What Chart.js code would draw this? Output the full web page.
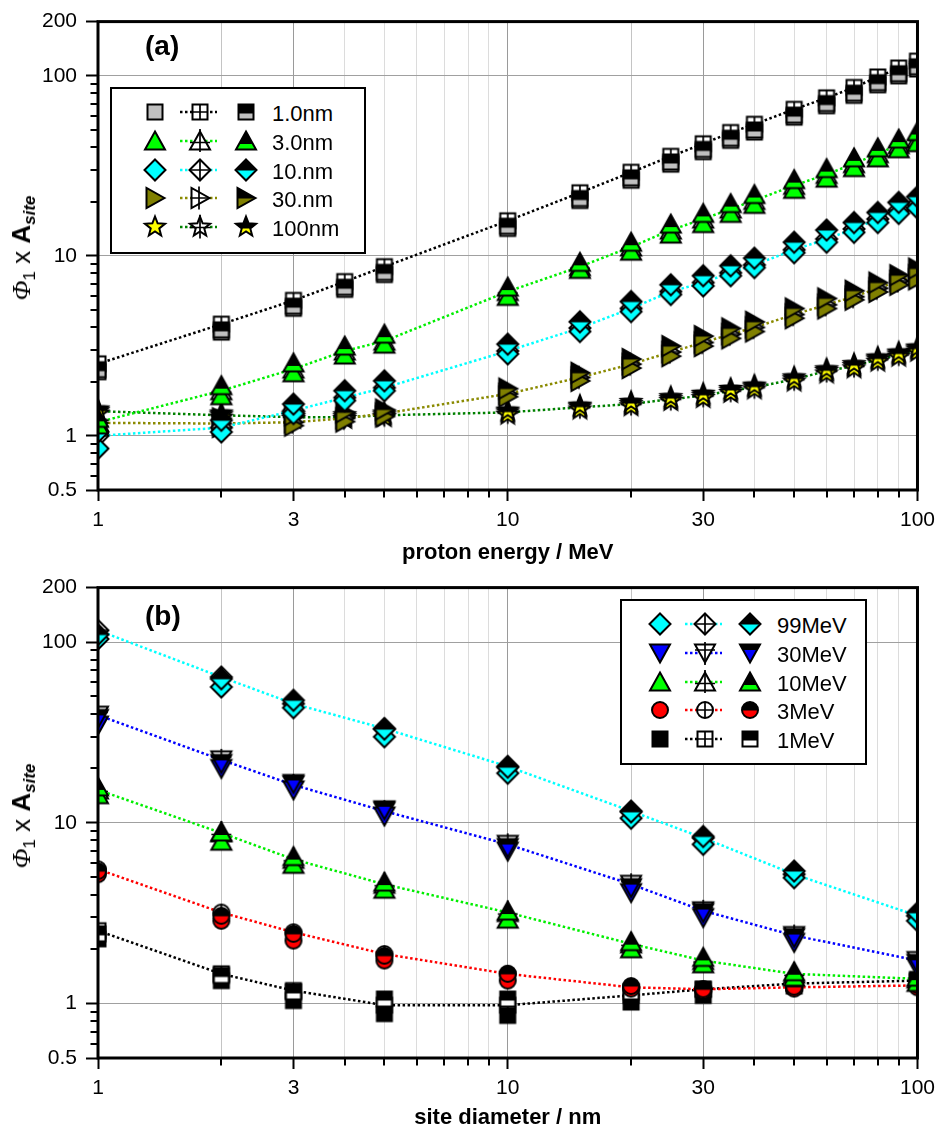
<!DOCTYPE html>
<html>
<head>
<meta charset="utf-8">
<title>Φ1 x Asite</title>
<script src="https://cdn.jsdelivr.net/npm/chart.js@4.4.1/dist/chart.umd.min.js"></script>
<style>
html,body{margin:0;padding:0;background:#fff;}
#page{position:relative;width:942px;height:1133px;overflow:hidden;font-family:"Liberation Sans",Arial,sans-serif;color:#000;}
#page canvas.chart{position:absolute;left:0;}
.plabel{position:absolute;font-weight:bold;font-size:28px;line-height:1;}
.ytitle{position:absolute;white-space:nowrap;font-size:26px;line-height:1;transform:translate(-50%,-50%) rotate(-90deg);}
.ytitle .phi{font-family:"Liberation Serif","DejaVu Serif",serif;font-style:italic;}
.ytitle sub{font-size:17px;vertical-align:-5px;line-height:1;}
.lbox{position:absolute;box-sizing:border-box;border:2.5px solid #000;background:#fff;}
.litem{position:absolute;}
.ltext{position:absolute;font-size:22px;line-height:22px;white-space:nowrap;}
</style>
</head>
<body>
<div id="page">
  <canvas class="chart" id="chartA" width="942" height="566" style="top:0"></canvas>
  <canvas class="chart" id="chartB" width="942" height="567" style="top:566px"></canvas>
  <div class="plabel" style="left:145px;top:32px;">(a)</div>
  <div class="plabel" style="left:145px;top:602px;">(b)</div>
  <div class="ytitle" style="left:23px;top:248px;"><span class="phi">Φ</span><sub>1</sub> x <b>A</b><sub><b><i>site</i></b></sub></div>
  <div class="ytitle" style="left:23px;top:816px;"><span class="phi">Φ</span><sub>1</sub> x <b>A</b><sub><b><i>site</i></b></sub></div>
</div>
<script>
// ---------------- DATA ----------------
// panel (a): x = proton energy / MeV
const energyMeV = [1,2,3,4,5,10,15,20,25,30,35,40,50,60,70,80,90,100];
const nm1Filled = [2.27,3.77,5.11,6.51,7.87,14.2,20.3,26.3,32.3,37.9,43.8,48.7,58.9,68.2,77.9,89.1,99.9,109.1];
const nm1Open   = [2.51,4.17,5.65,7.19,8.70,15.65,22.4,29.1,35.7,41.9,48.4,53.8,65.1,75.4,86.1,98.5,110.4,120.6];
const nm1Half   = [2.33,3.88,5.25,6.69,8.09,14.6,20.8,27.1,33.2,39.0,45.0,50.0,60.5,70.1,80.1,91.6,102.7,112.2];
const nm3Filled = [1.15,1.67,2.24,2.81,3.23,5.95,8.4,10.6,13.2,15.1,17.2,19.3,23.4,27.0,30.9,35.0,39.3,42.5];
const nm3Open   = [1.19,1.78,2.35,2.96,3.36,6.33,8.7,11.2,13.9,16.0,18.2,20.3,24.6,28.3,32.5,36.9,41.4,44.7];
const nm3Half   = [1.25,1.90,2.54,3.15,3.67,6.70,9.2,11.9,15.0,17.2,19.5,21.9,26.5,30.5,35.0,39.8,44.5,49.0];
const nm10Filled = [0.85,1.05,1.33,1.57,1.78,2.85,3.80,4.90,6.10,6.80,7.75,8.60,10.4,11.9,13.5,15.3,17.2,18.4];
const nm10Open   = [1.00,1.11,1.38,1.63,1.85,2.96,3.97,5.10,6.33,7.10,8.05,8.90,10.8,12.4,14.1,16.0,17.9,19.3];
const nm10Half   = [1.05,1.22,1.50,1.78,2.02,3.23,4.30,5.57,6.90,7.75,8.80,9.70,11.9,13.9,15.3,17.4,19.8,21.3];
const nm30Filled = [1.13,1.12,1.14,1.20,1.28,1.65,2.02,2.38,2.77,3.15,3.48,3.80,4.50,5.10,5.70,6.30,6.90,7.40];
const nm30Open   = [1.18,1.17,1.19,1.25,1.33,1.71,2.11,2.50,2.92,3.30,3.67,4.00,4.72,5.35,5.93,6.60,7.25,7.80];
const nm30Half   = [1.22,1.25,1.30,1.35,1.40,1.83,2.24,2.67,3.15,3.58,3.95,4.30,5.10,5.80,6.40,7.10,7.80,8.50];
const nm100Filled = [1.33,1.26,1.24,1.24,1.27,1.31,1.40,1.46,1.56,1.62,1.73,1.81,2.00,2.22,2.37,2.58,2.75,2.93];
const nm100Open   = [1.37,1.30,1.27,1.27,1.30,1.35,1.44,1.50,1.60,1.67,1.78,1.86,2.06,2.29,2.44,2.66,2.83,3.02];
const nm100Half   = [1.40,1.33,1.30,1.30,1.33,1.38,1.47,1.54,1.64,1.71,1.82,1.90,2.11,2.34,2.50,2.72,2.90,3.09];

// panel (b): x = site diameter / nm
const siteNm = [1,2,3,5,10,20,30,50,100];
const mev99Filled = [104,56.4,43.3,29.9,18.8,10.6,7.60,4.97,2.87];
const mev99Open   = [116,64.0,45.6,33.2,20.5,11.6,8.25,5.19,3.06];
const mev99Half   = [110,62.6,47.6,33.0,20.3,11.5,8.40,5.41,3.18];
const mev30Filled = [34.7,20.0,15.2,10.9,6.97,4.11,2.99,2.18,1.59];
const mev30Open   = [39.4,22.3,16.2,11.6,7.60,4.57,3.26,2.38,1.73];
const mev30Half   = [37.8,21.3,16.5,11.8,7.30,4.38,3.19,2.32,1.67];
const mev10Filled = [14.3,7.91,5.89,4.29,2.93,2.01,1.66,1.40,1.31];
const mev10Open   = [15.2,8.79,6.28,4.57,3.19,2.14,1.73,1.46,1.37];
const mev10Half   = [15.8,8.90,6.50,4.70,3.25,2.20,1.80,1.50,1.40];
const mev3Filled = [5.19,2.87,2.23,1.73,1.34,1.21,1.18,1.21,1.23];
const mev3Open   = [5.53,3.19,2.48,1.88,1.46,1.23,1.20,1.23,1.26];
const mev3Half   = [5.40,3.06,2.43,1.84,1.46,1.25,1.20,1.24,1.27];
const mev1Filled = [2.28,1.34,1.04,0.88,0.86,1.02,1.11,1.25,1.32];
const mev1Open   = [2.53,1.46,1.18,0.98,0.98,1.11,1.20,1.29,1.34];
const mev1Half   = [2.43,1.43,1.16,1.06,1.06,1.16,1.20,1.30,1.36];

// axes
const xTickValues = [1,2,3,4,5,6,7,8,9,10,20,30,40,50,60,70,80,90,100];
const xTickLabels = [1,3,10,30,100];
const yTickValues = [0.5,0.6,0.7,0.8,0.9,1,2,3,4,5,6,7,8,9,10,20,30,40,50,60,70,80,90,100,200];
const yTickLabels = [0.5,1,10,100,200];
const yGridValues = [1,10,100];

// ---------------- STYLES ----------------
const seriesA = [
  {label:'1.0nm', shape:'square',   fill:'#c0c0c0', halfFill:'#c0c0c0', line:'#000000', filled:nm1Filled,  open:nm1Open,  half:nm1Half},
  {label:'3.0nm', shape:'triUp',    fill:'#00ff00', halfFill:'#00ff00', line:'#00ee00', filled:nm3Filled,  open:nm3Open,  half:nm3Half},
  {label:'10.nm', shape:'diamond',  fill:'#00ffff', halfFill:'#00ffff', line:'#00ffff', filled:nm10Filled, open:nm10Open, half:nm10Half},
  {label:'30.nm', shape:'triRight', fill:'#808000', halfFill:'#808000', line:'#8a8a00', filled:nm30Filled, open:nm30Open, half:nm30Half},
  {label:'100nm', shape:'star',     fill:'#ffff00', halfFill:'#ffff00', line:'#008000', filled:nm100Filled,open:nm100Open,half:nm100Half}
];
const seriesB = [
  {label:'99MeV', shape:'diamond', fill:'#00ffff', halfFill:'#00ffff', line:'#00ffff', filled:mev99Filled, open:mev99Open, half:mev99Half},
  {label:'30MeV', shape:'triDown', fill:'#0000ff', halfFill:'#0000ff', line:'#0000ff', filled:mev30Filled, open:mev30Open, half:mev30Half},
  {label:'10MeV', shape:'triUp',   fill:'#00ff00', halfFill:'#00ff00', line:'#00ee00', filled:mev10Filled, open:mev10Open, half:mev10Half},
  {label:'3MeV',  shape:'circle',  fill:'#ff0000', halfFill:'#ff0000', line:'#ff0000', filled:mev3Filled,  open:mev3Open,  half:mev3Half},
  {label:'1MeV',  shape:'square',  fill:'#000000', halfFill:'#ffffff', line:'#000000', filled:mev1Filled,  open:mev1Open,  half:mev1Half}
];

// ---------------- MARKERS ----------------
const MK = 30;
function shapePath(shape){
  const p = new Path2D();
  if (shape==='square'){ p.rect(-7.5,-7.5,15,15); }
  else if (shape==='triUp'){ p.moveTo(0,-9.5); p.lineTo(10,8.5); p.lineTo(-10,8.5); p.closePath(); }
  else if (shape==='triDown'){ p.moveTo(0,9.5); p.lineTo(10,-8.5); p.lineTo(-10,-8.5); p.closePath(); }
  else if (shape==='triRight'){ p.moveTo(9.5,0); p.lineTo(-8.5,-10); p.lineTo(-8.5,10); p.closePath(); }
  else if (shape==='diamond'){ p.moveTo(0,-10.5); p.lineTo(10.5,0); p.lineTo(0,10.5); p.lineTo(-10.5,0); p.closePath(); }
  else if (shape==='circle'){ p.arc(0,0,8,0,Math.PI*2); }
  else if (shape==='star'){
    for (let i=0;i<10;i++){ const r = i%2 ? 4.5 : 10.5; const a = -Math.PI/2 + i*Math.PI/5;
      if(i===0) p.moveTo(r*Math.cos(a), r*Math.sin(a)); else p.lineTo(r*Math.cos(a), r*Math.sin(a)); }
    p.closePath();
  }
  return p;
}
const CROSS = {
  square:[[0,-7.5,0,7.5],[-7.5,0,7.5,0]],
  triUp:[[0,-12,0,11],[-10,1.5,10,1.5]],
  triDown:[[0,-11,0,12],[-10,-3,10,-3]],
  triRight:[[-1,-11.5,-1,11.5],[-9.5,0,9.5,0]],
  diamond:[[0,-10.5,0,10.5],[-10.5,0,10.5,0]],
  circle:[[0,-8,0,8],[-8,0,8,0]],
  star:[[0,-12,0,11.5],[-10.5,0.5,10.5,0.5]]
};
const SPLIT = {square:1.5, triUp:3, triDown:-3, triRight:0.5, diamond:0.5, circle:0.5, star:1.5};
function marker(shape, variant, color){
  const c = document.createElement('canvas');
  c.width = MK; c.height = MK;
  const g = c.getContext('2d');
  g.translate(MK/2, MK/2);
  const p = shapePath(shape);
  g.lineWidth = 2; g.strokeStyle = '#000'; g.lineJoin = 'miter';
  if (variant==='filled'){ g.fillStyle = color; g.fill(p); g.stroke(p); }
  else if (variant==='open'){
    g.fillStyle = '#fff'; g.fill(p); g.stroke(p);
    g.beginPath();
    CROSS[shape].forEach(([x1,y1,x2,y2])=>{ g.moveTo(x1,y1); g.lineTo(x2,y2); });
    g.lineWidth = 1.7; g.stroke();
  } else {
    g.fillStyle = color; g.fill(p);
    g.save(); g.clip(p); g.fillStyle = '#000'; g.fillRect(-MK/2,-MK/2,MK,MK/2+SPLIT[shape]); g.restore();
    g.stroke(p);
  }
  return c;
}

// ---------------- CHART ----------------
Chart.defaults.font.family = '"Liberation Sans", Arial, sans-serif';
Chart.defaults.color = '#000';

function buildDatasets(xs, series){
  const ds = [];
  const pts = v => xs.map((x,i)=>({x:x, y:v[i]}));
  series.forEach((s,k)=>{
    ds.push({label:s.label+' line', data:pts(s.open), showLine:true, borderColor:s.line, borderWidth:2.5,
      borderDash:[2.5,2.5], borderCapStyle:'butt', pointRadius:0, tension:0, order:100+k, clip:0});
    ds.push({label:s.label+' b', data:pts(s.open), showLine:false, pointStyle:marker(s.shape,'open',s.fill), pointRadius:8, order:k*3+3, clip:0});
    ds.push({label:s.label+' a', data:pts(s.filled), showLine:false, pointStyle:marker(s.shape,'filled',s.fill), pointRadius:8, order:k*3+2, clip:0});
    ds.push({label:s.label+' c', data:pts(s.half), showLine:false, pointStyle:marker(s.shape,'half',s.halfFill), pointRadius:8, order:k*3+1, clip:0});
  });
  return ds;
}

const framePlugin = {
  id:'frame',
  afterDraw(chart){
    const {ctx, chartArea:a} = chart;
    const xs = chart.scales.x, ys = chart.scales.y;
    ctx.save();
    ctx.strokeStyle = '#000'; ctx.lineWidth = 2;
    ctx.beginPath();
    xTickValues.filter(v=>!xTickLabels.includes(v)).forEach(v=>{
      const px = Math.round(xs.getPixelForValue(v)); ctx.moveTo(px, a.bottom); ctx.lineTo(px, a.bottom+7.5);
    });
    yTickValues.filter(v=>!yTickLabels.includes(v)).forEach(v=>{
      const py = Math.round(ys.getPixelForValue(v)); ctx.moveTo(a.left, py); ctx.lineTo(a.left-7.5, py);
    });
    ctx.stroke();
    ctx.lineWidth = 3;
    ctx.strokeRect(a.left, a.top, a.right-a.left, a.bottom-a.top);
    ctx.restore();
  }
};

function gridColorX(ctx){
  const v = ctx.tick && ctx.tick.value;
  if (xTickLabels.includes(v)) return '#9a9a9a';
  if (v===2 || v===20) return '#c4c4c4';
  return '#dcdcdc';
}

function makeChart(id, xs, series, cfg){
  return new Chart(document.getElementById(id), {
    type:'scatter',
    data:{datasets: buildDatasets(xs, series)},
    options:{
      responsive:false, animation:false, events:[],
      layout:{padding:{left:0, right:21, top:cfg.top, bottom:0}},
      plugins:{legend:{display:false}, tooltip:{enabled:false}, title:{display:false}},
      scales:{
        x:{type:'logarithmic', position:'bottom', min:1, max:100,
          afterBuildTicks: s => { s.ticks = xTickValues.map(v=>({value:v})); },
          afterFit: s => { s.height = cfg.xh; },
          ticks:{autoSkip:false, maxRotation:0, padding:7, font:{size:21}, color:'#000',
            callback: v => xTickLabels.includes(v) ? String(v) : ''},
          grid:{color:gridColorX, lineWidth:1, drawTicks:true, tickLength:11, tickWidth:2,
            tickColor: c => xTickLabels.includes(c.tick && c.tick.value) ? '#000' : 'rgba(0,0,0,0)'},
          border:{display:false},
          title:{display:true, text:cfg.xtitle, font:{size:22, weight:'bold'}, color:'#000', padding:{top:0,bottom:cfg.tpad}}
        },
        y:{type:'logarithmic', position:'left', min:0.5, max:200,
          afterBuildTicks: s => { s.ticks = yTickValues.map(v=>({value:v})); },
          afterFit: s => { s.width = 98; },
          ticks:{autoSkip:false, padding:9, font:{size:21}, color:'#000',
            callback: v => yTickLabels.includes(v) ? String(v) : ''},
          grid:{color: c => yGridValues.includes(c.tick && c.tick.value) ? '#a0a0a0' : 'rgba(0,0,0,0)',
            lineWidth:1, drawTicks:true, tickLength:12, tickWidth:2,
            tickColor: c => yTickLabels.includes(c.tick && c.tick.value) ? '#000' : 'rgba(0,0,0,0)'},
          border:{display:false}
        }
      }
    },
    plugins:[framePlugin]
  });
}

makeChart('chartA', energyMeV, seriesA, {top:17, xh:76, xtitle:'proton energy / MeV', tpad:0});
makeChart('chartB', siteNm, seriesB, {top:19, xh:75, xtitle:'site diameter / nm', tpad:2});

// ---------------- LEGENDS (HTML overlay) ----------------
const page = document.getElementById('page');
function addBox(l,t,w,h){ const d=document.createElement('div'); d.className='lbox';
  d.style.left=l+'px'; d.style.top=t+'px'; d.style.width=w+'px'; d.style.height=h+'px'; page.appendChild(d); }
function addCanvas(c, cx, cy){ c.className='litem'; c.style.left=(cx-c.width/2)+'px'; c.style.top=(cy-c.height/2)+'px'; page.appendChild(c); }
function lineCell(s, x1, x2, ox){
  const w = Math.round(x2-x1), c = document.createElement('canvas');
  c.width = w; c.height = MK;
  const g = c.getContext('2d');
  g.strokeStyle = s.line; g.lineWidth = 2.5; g.setLineDash([2.5,2.5]);
  g.beginPath(); g.moveTo(0, MK/2); g.lineTo(w, MK/2); g.stroke();
  g.drawImage(marker(s.shape,'open',s.fill), ox-x1-MK/2, 0);
  return c;
}
function buildLegend(series, box, rows, col){
  addBox(box[0], box[1], box[2], box[3]);
  series.forEach((s,i)=>{
    const cy = rows[i];
    addCanvas(marker(s.shape,'filled',s.fill), col.filled, cy);
    const lc = lineCell(s, col.l1, col.l2, col.open);
    lc.className='litem'; lc.style.left=col.l1+'px'; lc.style.top=(cy-MK/2)+'px'; page.appendChild(lc);
    addCanvas(marker(s.shape,'half',s.halfFill), col.half, cy);
    const t = document.createElement('div'); t.className='ltext'; t.textContent = s.label;
    t.style.left = col.text+'px'; t.style.top = (cy-9.5)+'px'; page.appendChild(t);
  });
}
buildLegend(seriesA, [110,87,256,167], [112,141,170,198,227], {filled:154.5, open:200, l1:180, l2:217, half:245.5, text:272});
buildLegend(seriesB, [620,599,247,166], [624,653,682,710,739], {filled:659.5, open:705, l1:685, l2:722, half:750, text:777});
</script>
</body>
</html>
